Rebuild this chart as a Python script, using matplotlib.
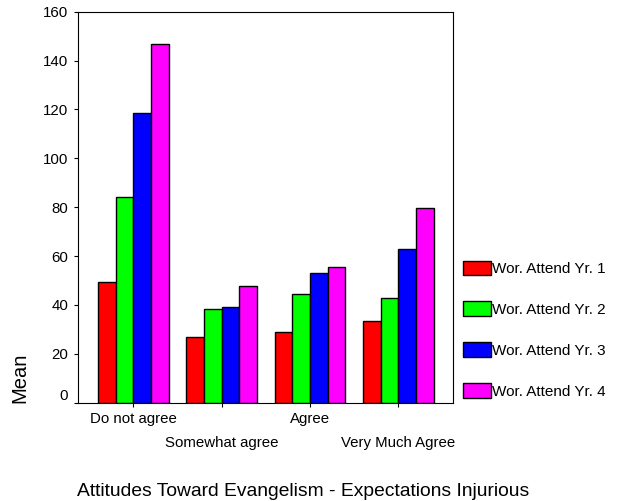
import numpy as np
import matplotlib.pyplot as plt

plt.rcParams['font.family'] = ['Liberation Sans', 'DejaVu Sans']

categories = ["Do not agree", "Somewhat agree", "Agree", "Very Much Agree"]
series = ["Wor. Attend Yr. 1", "Wor. Attend Yr. 2", "Wor. Attend Yr. 3", "Wor. Attend Yr. 4"]
yr1 = [49.3, 27.0, 28.8, 33.3]
yr2 = [84.0, 38.2, 44.6, 43.0]
yr3 = [118.4, 39.0, 53.1, 62.8]
yr4 = [146.8, 47.9, 55.4, 79.5]
colors = ["#ff0000", "#00ff00", "#0000ff", "#ff00ff"]

fig = plt.figure(figsize=(6.24, 5.01), dpi=100)
ax = fig.add_axes([78 / 624, 1 - 402.7 / 501, 375 / 624, 391 / 501])

x = np.arange(len(categories))
w = 0.2
for i, vals in enumerate([yr1, yr2, yr3, yr4]):
    ax.bar(x + (i - 1.5) * w, vals, w, color=colors[i], edgecolor='black',
           linewidth=1.0, label=series[i])

ax.set_xlim(-0.626, 3.62)
ax.set_ylim(0, 160)
ax.set_yticks(np.arange(0, 161, 20))

# staggered category labels: even ones on major ticks, odd ones on minor ticks further down
ax.set_xticks(x[::2])
ax.set_xticklabels(categories[::2])
ax.set_xticks(x[1::2], minor=True)
ax.set_xticklabels(categories[1::2], minor=True)

ax.tick_params(axis='both', which='both', direction='out', length=3, width=0.8, labelsize=10.8)
ax.tick_params(axis='x', which='major', pad=3.5)
ax.tick_params(axis='x', which='minor', pad=21.3)
ax.tick_params(axis='y', pad=4)
for lab in ax.get_yticklabels():
    if lab.get_text() == "0":
        lab.set_va('bottom')
for s in ax.spines.values():
    s.set_linewidth(0.8)

fig.text(20 / 624, 1 - 377.5 / 501, "Mean", rotation=90, ha='center', va='center', fontsize=14.5)
fig.text(303 / 624, 1 - 496.5 / 501, "Attitudes Toward Evangelism - Expectations Injurious",
         ha='center', va='baseline', fontsize=13.9)

fig.legend(loc='upper left', bbox_to_anchor=(463 / 624, 1 - 260.7 / 501), frameon=False,
           fontsize=11, handlelength=1.83, handleheight=1.11, handletextpad=0.05,
           labelspacing=1.65, borderpad=0, borderaxespad=0)

fig.savefig("out.png", dpi=100)
